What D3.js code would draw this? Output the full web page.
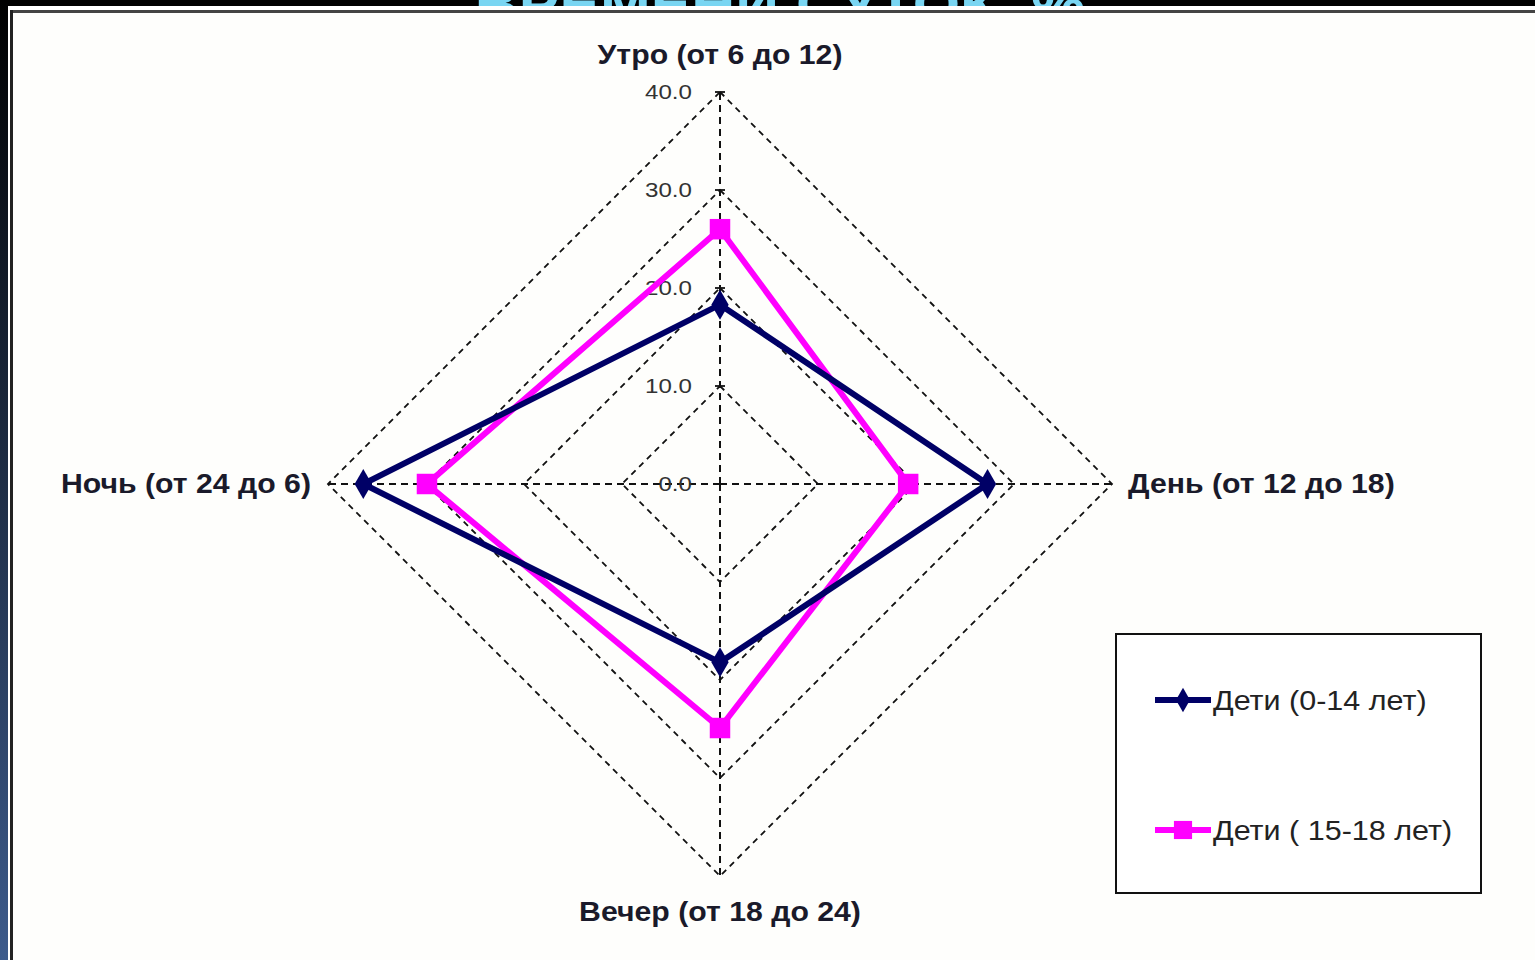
<!DOCTYPE html>
<html>
<head>
<meta charset="utf-8">
<script src="https://cdn.jsdelivr.net/npm/d3@7"></script>
<style>
  html, body { margin: 0; padding: 0; background: #000; overflow: hidden; }
  svg { display: block; }
</style>
</head>
<body>
<div id="chart"></div>
<script>
// Radar chart: share of time of day, %
const axisNames = ["Утро (от 6 до 12)", "День (от 12 до 18)", "Вечер (от 18 до 24)", "Ночь (от 24 до 6)"]
const kids0to14 = [18.3, 27.3, 18.2, 36.4]
const kids15to18 = [26.0, 19.2, 24.9, 29.9]
const tickValues = [0, 10, 20, 30, 40]
const seriesNames = ["Дети (0-14 лет)", "Дети ( 15-18 лет)"]
const titleText = "ВРЕМЕНИ СУТОК, %"

function drawChart(container) {
    const WIDTH = 1535
    const HEIGHT = 960
    const cx = 720, cy = 484

    let svg = d3.select(container).append("svg")
        .attr("width", WIDTH)
        .attr("height", HEIGHT)

    // slide background and left gradient strip
    let defs = svg.append("defs")
    let grad = defs.append("linearGradient").attr("id", "side").attr("x1", 0).attr("y1", 0).attr("x2", 0).attr("y2", 1)
    grad.append("stop").attr("offset", "0%").attr("stop-color", "#000")
    grad.append("stop").attr("offset", "100%").attr("stop-color", "#3d5b8c")
    svg.append("rect").attr("width", WIDTH).attr("height", HEIGHT).attr("fill", "#000")
    svg.append("rect").attr("x", 0).attr("y", 0).attr("width", 8).attr("height", HEIGHT).attr("fill", "url(#side)")

    // slide title, mostly hidden behind the chart frame (as on the slide)
    svg.append("text")
        .attr("transform", "translate(780,24) scale(1.05,1)")
        .attr("text-anchor", "middle")
        .attr("font-family", "Liberation Sans, Arial, sans-serif")
        .attr("font-weight", "bold")
        .attr("font-size", 58)
        .attr("fill", "#79d5f2")
        .text(titleText)

    // chart frame
    svg.append("rect").attr("x", 8).attr("y", 6).attr("width", WIDTH - 8).attr("height", HEIGHT - 6).attr("fill", "#fff")
    svg.append("rect").attr("x", 10).attr("y", 10).attr("width", WIDTH - 10).attr("height", 3).attr("fill", "#444")
    svg.append("rect").attr("x", 10).attr("y", 10).attr("width", 3).attr("height", HEIGHT - 10).attr("fill", "#222")
    svg.append("rect").attr("x", 13).attr("y", 13).attr("width", WIDTH - 13).attr("height", HEIGHT - 13).attr("fill", "#fefefc")

    // scales
    const r = d3.scaleLinear().domain([0, 40]).range([0, 392])
    const a = i => i * 2 * Math.PI / axisNames.length

    let g = svg.append("g").attr("transform", `translate(${cx},${cy})`)

    // grid rings
    const ring = d3.lineRadial().angle((d, i) => a(i)).radius(d => r(d)).curve(d3.curveLinearClosed)
    g.selectAll(".ring")
        .data(tickValues.filter(t => t > 0))
        .enter()
        .append("path")
            .attr("d", t => ring(axisNames.map(() => t)))
            .attr("fill", "none")
            .attr("stroke", "#111")
            .attr("stroke-width", 1.8)
            .attr("stroke-dasharray", "6,5")

    // spokes
    g.selectAll(".spoke")
        .data(axisNames)
        .enter()
        .append("line")
            .attr("x1", 0).attr("y1", 0)
            .attr("x2", (d, i) => r(40) * Math.sin(a(i)))
            .attr("y2", (d, i) => -r(40) * Math.cos(a(i)))
            .attr("stroke", "#111")
            .attr("stroke-width", 2)
            .attr("stroke-dasharray", "7,5")

    // value axis tick marks and labels
    g.selectAll(".tick")
        .data(tickValues)
        .enter()
        .append("line")
            .attr("x1", -5).attr("x2", 5)
            .attr("y1", d => -r(d)).attr("y2", d => -r(d))
            .attr("stroke", "#111")
            .attr("stroke-width", 1.8)
    g.selectAll(".ticklabel")
        .data(tickValues)
        .enter()
        .append("text")
            .attr("transform", d => `translate(-28,${-r(d) + 7}) scale(1.15,1)`)
            .attr("text-anchor", "end")
            .attr("font-family", "Liberation Sans, Arial, sans-serif")
            .attr("font-size", 21)
            .attr("fill", "#333")
            .text(d => d3.format(".1f")(d))

    // category labels
    const labelPos = [
        { x: 0, y: -420, anchor: "middle" },
        { x: 408, y: 9, anchor: "start" },
        { x: 0, y: 437, anchor: "middle" },
        { x: -409, y: 9, anchor: "end" }
    ]
    g.selectAll(".axislabel")
        .data(axisNames)
        .enter()
        .append("text")
            .attr("transform", (d, i) => `translate(${labelPos[i].x},${labelPos[i].y}) scale(1.12,1)`)
            .attr("text-anchor", (d, i) => labelPos[i].anchor)
            .attr("font-family", "Liberation Sans, Arial, sans-serif")
            .attr("font-weight", "bold")
            .attr("font-size", 27)
            .attr("fill", "#1a1a2a")
            .text(d => d)

    // series
    const series = [
        { name: seriesNames[0], values: kids0to14, color: "#000066", marker: d3.symbolDiamond, size: 260 },
        { name: seriesNames[1], values: kids15to18, color: "#ff00ff", marker: d3.symbolSquare, size: 420 }
    ]
    const line = d3.lineRadial().angle((d, i) => a(i)).radius(d => r(d)).curve(d3.curveLinearClosed)

    series.slice().reverse().forEach(s => {
        g.append("path")
            .attr("d", line(s.values))
            .attr("fill", "none")
            .attr("stroke", s.color)
            .attr("stroke-width", 6)
            .attr("stroke-linejoin", "miter")
        g.selectAll(null)
            .data(s.values)
            .enter()
            .append("path")
                .attr("d", d3.symbol().type(s.marker).size(s.size))
                .attr("transform", (d, i) => `translate(${r(d) * Math.sin(a(i))},${-r(d) * Math.cos(a(i))})`)
                .attr("fill", s.color)
    })

    // legend
    let legend = svg.append("g")
    legend.append("rect")
        .attr("x", 1116).attr("y", 634)
        .attr("width", 365).attr("height", 259)
        .attr("fill", "#fff")
        .attr("stroke", "#111")
        .attr("stroke-width", 2)
    series.forEach((s, i) => {
        const y = 700 + i * 130
        legend.append("line")
            .attr("x1", 1155).attr("x2", 1211)
            .attr("y1", y).attr("y2", y)
            .attr("stroke", s.color)
            .attr("stroke-width", 6)
        legend.append("path")
            .attr("d", d3.symbol().type(s.marker).size(i === 0 ? 170 : 330))
            .attr("transform", `translate(1183,${y})`)
            .attr("fill", s.color)
        legend.append("text")
            .attr("transform", `translate(1213,${y + 10}) scale(1.13,1)`)
            .attr("font-family", "Liberation Sans, Arial, sans-serif")
            .attr("font-size", 27)
            .attr("fill", "#222")
            .text(s.name)
    })
}

drawChart("#chart")
</script>
</body>
</html>
